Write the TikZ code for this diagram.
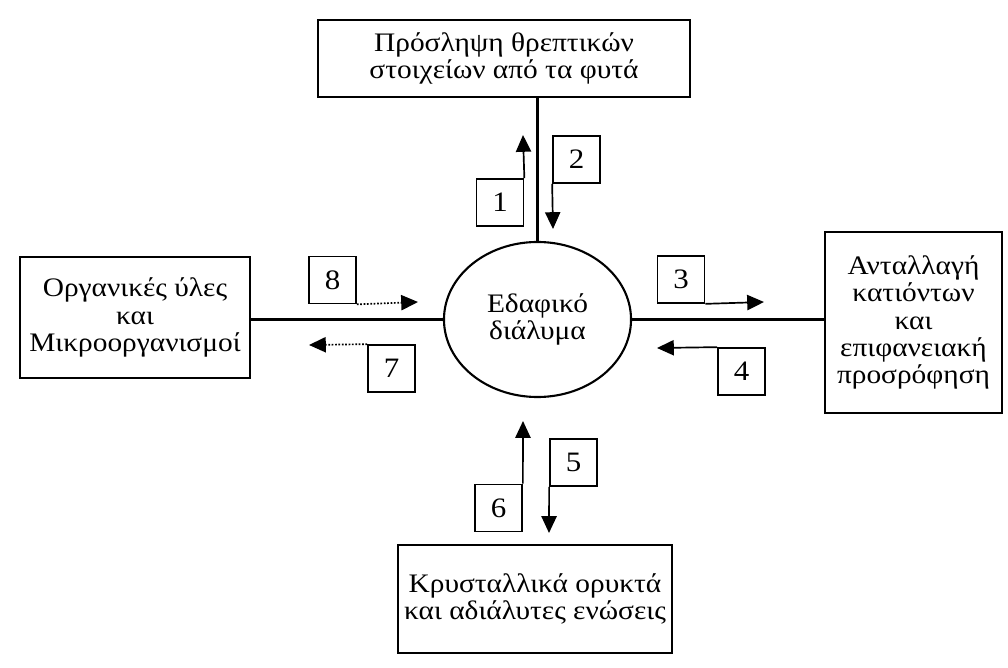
\documentclass[tikz,border=0pt]{standalone}
\usepackage{fontspec}
\setmainfont{Liberation Serif}[FakeStretch=1.1]
\usetikzlibrary{arrows.meta}
\usetikzlibrary{shapes.geometric}

\tikzset{
  pool/.style={draw, line width=1.5pt, align=center, inner sep=0pt,
    font=\fontsize{19}{19.5}\selectfont},
  numbox/.style={draw, line width=1.2pt, minimum size=1.175cm, inner sep=0pt,
    font=\fontsize{20}{20}\selectfont},
  flow/.style={line width=1.2pt, -{Triangle[length=0.42cm,width=0.38cm]}},
  slowflow/.style={flow, dash pattern=on 1.2pt off 1.2pt}
}

\begin{document}
\begin{tikzpicture}[x=0.025cm,y=-0.025cm]
      \useasboundingbox[fill=white] (0,0) rectangle (1008,668);

      % Pools
      \node[pool, minimum width=9.3cm, minimum height=1.925cm] (plant) at (504,58.5)
        {Πρόσληψη θρεπτικών\\στοιχείων από τα φυτά};
      \node[pool, minimum width=5.75cm, minimum height=3.025cm] (organic) at (135,317.5)
        {Οργανικές ύλες\\και\\Μικροοργανισμοί};
      \node[pool, minimum width=4.425cm, minimum height=4.525cm] (exchange) at (913.5,322.5)
        {Ανταλλαγή\\κατιόντων\\και\\επιφανειακή\\προσρόφηση};
      \node[pool, minimum width=6.85cm, minimum height=2.7cm] (mineral) at (535,599)
        {Κρυσταλλικά ορυκτά\\και αδιάλυτες ενώσεις};
      \node[pool, ellipse, minimum width=4.675cm, minimum height=3.875cm] (solution) at (537.5,319.5)
        {Εδαφικό\\διάλυμα};

      % Links
      \draw[line width=1.5pt] (solution.north |- plant.south) -- (solution.north);
      \draw[line width=1.5pt] (organic.east |- solution.west) -- (solution.west);
      \draw[line width=1.5pt] (solution.east) -- (solution.east -| exchange.west);

      % Numbered boxes
      \foreach \n/\x/\y in {1/500/202.5, 2/576.5/159.5, 3/681/279.5, 4/741.5/371.5,
                            5/573.5/462.5, 6/498.5/508, 7/391.5/368.5, 8/332.5/280}
      {
        \node[numbox] (n\n) at (\x,\y) {\n};
      }

      % Arrow ends
      \coordinate (t1) at (523,135);
      \coordinate (t2) at (553,229);
      \coordinate (t3) at (764,302);
      \coordinate (t4) at (657,348);
      \coordinate (t5) at (549,533);
      \coordinate (t6) at (523,421);
      \coordinate (t7) at (309,345);
      \coordinate (t8) at (418,302);

      % Arrows
      \draw[flow] (n1.north east) -- (t1);
      \draw[flow] (n2.south west) -- (t2);
      \draw[flow] (n3.south east) -- (t3);
      \draw[flow] (n4.north west) -- (t4);
      \draw[flow] (n5.south west) -- (t5);
      \draw[flow] (n6.north east) -- (t6);
      \draw[slowflow] (n7.north west) -- (t7);
      \draw[slowflow] (n8.south east) -- (t8);
\end{tikzpicture}
\end{document}
